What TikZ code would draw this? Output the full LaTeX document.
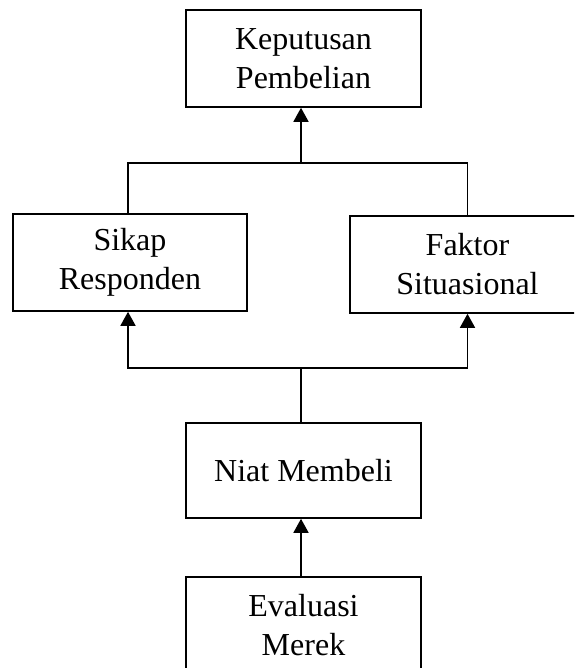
\documentclass[tikz,border=0pt]{standalone}
\usepackage{fontspec}
\setmainfont{Liberation Serif}
\usepackage{xcolor}
\usepackage{tikz}
\usetikzlibrary{arrows.meta}

\begin{document}
\begin{tikzpicture}[x=1pt,y=-1pt,line width=1.6pt,
  kotak/.style={draw,align=center,minimum width=235pt,minimum height=97pt,
    inner sep=0pt,font=\fontsize{32}{39}\selectfont},
  panah/.style={-{Triangle[width=15pt,length=14pt]}}]
  \useasboundingbox (0,0) rectangle (574,668) ;
  \clip (0,0) rectangle (574,668) ;
  %
  \node[kotak] (keputusan) at (303.5,58.5) {Keputusan\\Pembelian} ;
  \node[kotak,minimum width=234pt] (sikap) at (130,262.5) {Sikap\\Responden} ;
  \node[kotak] (faktor) at (467.5,264.5) {Faktor\\Situasional} ;
  \node[kotak,minimum height=95pt] (niat) at (303.5,470.5) {Niat Membeli} ;
  \node[kotak] (evaluasi) at (303.5,625.5) {Evaluasi\\Merek} ;
  %
  \coordinate (atas) at (301,163) ;
  \coordinate (bawah) at (301,368) ;
  %
  \draw (sikap.north -| 128,0) |- (atas) -| (faktor.north) ;
  \draw[panah] (atas) -- (keputusan.south -| atas) ;
  %
  \draw (niat.north -| bawah) -- (bawah) ;
  \draw[panah] (bawah) -| (sikap.south -| 128,0) ;
  \draw[panah] (bawah) -| (faktor.south) ;
  %
  \draw[panah] (evaluasi.north -| atas) -- (niat.south -| atas) ;
\end{tikzpicture}
\end{document}
